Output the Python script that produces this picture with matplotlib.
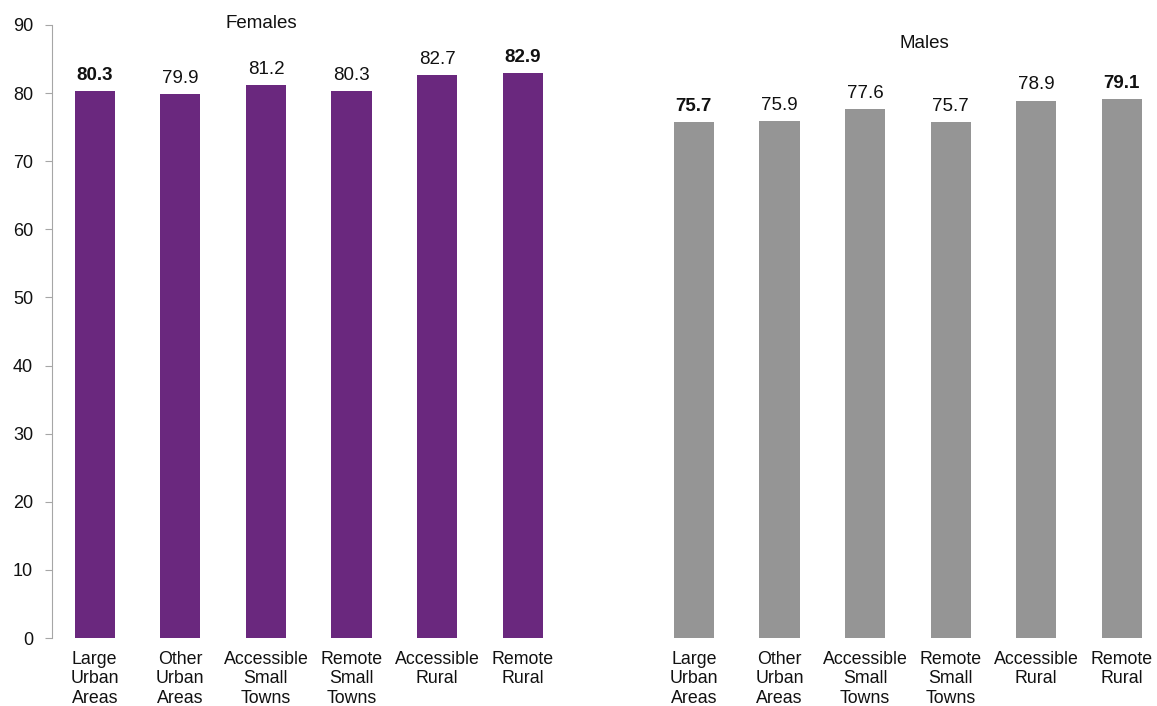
import matplotlib.pyplot as plt
import numpy as np

plt.rcParams["font.family"] = ["Liberation Sans", "DejaVu Sans"]

areas = [
    "Large\nUrban\nAreas",
    "Other\nUrban\nAreas",
    "Accessible\nSmall\nTowns",
    "Remote\nSmall\nTowns",
    "Accessible\nRural",
    "Remote\nRural",
]
females = [80.3, 79.9, 81.2, 80.3, 82.7, 82.9]
males = [75.7, 75.9, 77.6, 75.7, 78.9, 79.1]
bold_idx = [0, 5]

PURPLE = "#6A287E"
GREY = "#959595"
AXIS_GREY = "#A6A6A6"
INK = "#111111"


def draw_group(ax, values, color, show_y):
    x = np.arange(len(values))
    bars = ax.bar(x, values, width=0.47, color=color, edgecolor="none")
    for i, (b, v) in enumerate(zip(bars, values)):
        ax.annotate(f"{v:.1f}", (b.get_x() + b.get_width() / 2, v),
                    xytext=(0, 8), textcoords="offset points",
                    ha="center", va="baseline", fontsize=13.5,
                    fontweight="bold" if i in bold_idx else "normal",
                    color=INK)
    ax.set_xlim(-0.5, len(values) - 0.5)
    ax.set_ylim(0, 90)
    ax.set_xticks(x)
    ax.set_xticklabels(areas, fontsize=12.8, linespacing=1.22, color=INK)
    ax.tick_params(axis="x", length=0, pad=9)
    for side in ("top", "right", "bottom"):
        ax.spines[side].set_visible(False)
    if show_y:
        ax.spines["left"].set_color(AXIS_GREY)
        ax.set_yticks(np.arange(0, 91, 10))
        ax.tick_params(axis="y", length=5, color=AXIS_GREY, labelsize=13,
                       labelcolor=INK, pad=8.5)
    else:
        ax.spines["left"].set_visible(False)
        ax.set_yticks([])


fig = plt.figure(figsize=(11.57, 7.06), dpi=100)
ax_f = fig.add_axes([0.0449, 0.0963, 0.4439, 0.8683])
ax_m = fig.add_axes([0.5627, 0.0963, 0.4439, 0.8683])

draw_group(ax_f, females, PURPLE, True)
draw_group(ax_m, males, GREY, False)

fig.text(261 / 1157, 1 - 24 / 706, "Females", ha="center", va="center", fontsize=13.5, color=INK)
fig.text(924 / 1157, 1 - 43 / 706, "Males", ha="center", va="center", fontsize=13.5, color=INK)

fig.savefig("out.png", dpi=100)
